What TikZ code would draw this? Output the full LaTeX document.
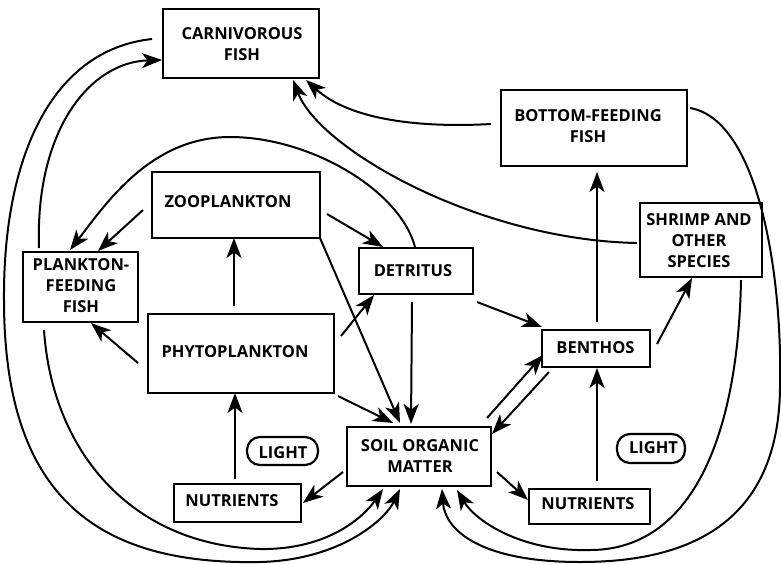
\documentclass[tikz,border=0pt]{standalone}
\usepackage{fontspec}
\setmainfont{Open Sans}
\usetikzlibrary{arrows.meta,calc}
\begin{document}
\begin{tikzpicture}[x=1pt,y=-1pt,
  box/.style={draw,line width=2.5pt,inner sep=0pt},
  lbl/.style={font=\fontsize{16.5}{21}\selectfont\bfseries,align=center,inner sep=0pt},
  pill/.style={draw,line width=2.2pt,rounded corners=13pt,inner sep=0pt},
  arr/.style={line width=2pt,-{Stealth[length=20pt,width=15pt,inset=5.5pt]}}]
\useasboundingbox (0,0) rectangle (781,563);

% boxes
\node[box,minimum width=156pt,minimum height=69pt] (carn) at (241,43.5) {};
\node[box,minimum width=186pt,minimum height=76pt] (bott) at (594,128) {};
\node[box,minimum width=168pt,minimum height=66pt] (zoo) at (236,205) {};
\node[box,minimum width=115pt,minimum height=70pt] (pff) at (80.5,287) {};
\node[box,minimum width=114pt,minimum height=46pt] (det) at (416,271) {};
\node[box,minimum width=122pt,minimum height=74pt] (shr) at (701,240) {};
\node[box,minimum width=186pt,minimum height=79pt] (phy) at (241,353.5) {};
\node[box,minimum width=108pt,minimum height=37pt] (ben) at (596,348.5) {};
\node[box,minimum width=144pt,minimum height=59pt] (soil) at (419,456.5) {};
\node[box,minimum width=127pt,minimum height=38pt] (nutL) at (237.5,503) {};
\node[box,minimum width=121pt,minimum height=35pt] (nutR) at (589.5,506.5) {};
\node[pill,minimum width=71pt,minimum height=28pt] (lightL) at (282.5,451) {};
\node[pill,minimum width=68pt,minimum height=29pt] (lightR) at (651,448.5) {};

% labels
\node[lbl] (tcarn) at (242,44.5) {CARNIVOROUS\\FISH};
\node[lbl] (tbott) at (588,126) {BOTTOM-FEEDING\\FISH};
\node[lbl] (tzoo) at (228,202) {ZOOPLANKTON};
\node[lbl] (tpff) at (81,286) {PLANKTON-\\FEEDING\\FISH};
\node[lbl] (tdet) at (413,271) {DETRITUS};
\node[lbl] (tshr) at (699,240.5) {SHRIMP AND\\OTHER\\SPECIES};
\node[lbl] (tphy) at (235,352) {PHYTOPLANKTON};
\node[lbl] (tben) at (595.5,347.5) {BENTHOS};
\node[lbl] (tsoil) at (420,456.5) {SOIL ORGANIC\\MATTER};
\node[lbl] (tnutL) at (232,500.5) {NUTRIENTS};
\node[lbl] (tnutR) at (588,503.5) {NUTRIENTS};
\node[lbl] (tlightL) at (283,452.5) {LIGHT};
\node[lbl] (tlightR) at (653.5,447.5) {LIGHT};

% long curved connectors
\draw[arr] ($(carn)+(-89,-4.5)$) .. controls (50,50) and (3,160) .. (4,300)
  .. controls (4,500) and (100,565) .. (260,562)
  .. controls (340,560) and (385,520) .. ($(soil)+(-19,32.5)$);
\draw[arr] ($(pff)+(-36.5,43)$) .. controls (52,450) and (130,545) .. (260,549)
  .. controls (330,550) and (365,515) .. ($(soil)+(-36,32.5)$);
\draw[arr] ($(pff)+(-41.5,-39)$) .. controls (35,130) and (90,62) .. ($(carn)+(-79,16.5)$);
\draw[arr] ($(det)+(-1,-24)$) .. controls (400,190) and (310,137) .. (230,137)
  .. controls (150,137) and (105,205) .. ($(pff)+(-10.5,-37)$);
\draw[arr] ($(shr)+(-64,3)$) .. controls (480,240) and (320,150) .. ($(carn)+(52,36.5)$);
\draw[arr] ($(bott)+(-103,-4)$) .. controls (420,128) and (350,120) .. ($(carn)+(65,36.5)$);
\draw[arr] ($(bott)+(96,-20)$) .. controls (760,120) and (782,280) .. (780,380)
  .. controls (782,530) and (680,562) .. (580,562)
  .. controls (480,562) and (445,530) .. ($(soil)+(23,32.5)$);
\draw[arr] ($(shr)+(40,40)$) .. controls (738,440) and (690,550) .. (590,550)
  .. controls (520,552) and (475,520) .. ($(soil)+(38,33.5)$);

% straight connectors
\draw[arr] ($(zoo)+(-93,5)$) -- ($(pff)+(17.5,-36)$);
\draw[arr] ($(zoo)+(91,9)$) -- ($(det)+(-33,-24)$);
\draw[arr] ($(zoo)+(84,33)$) -- ($(soil)+(-19,-33.5)$);
\draw[arr] ($(phy)+(-7,-47.5)$) -- ($(zoo)+(-2,33)$);
\draw[arr] ($(phy)+(-103,9.5)$) -- ($(pff)+(10.5,36)$);
\draw[arr] ($(phy)+(100,-17.5)$) -- ($(det)+(-42,24)$);
\draw[arr] ($(phy)+(97,42.5)$) -- ($(soil)+(-26,-33.5)$);
\draw[arr] ($(nutL)+(-2.5,-24)$) -- ($(phy)+(-6,39.5)$);
\draw[arr] ($(soil)+(-76,15.5)$) -- ($(nutL)+(65.5,0)$);
\draw[arr] ($(det)+(-4,31)$) -- ($(soil)+(-8,-32.5)$);
\draw[arr] ($(det)+(61,31)$) -- ($(ben)+(-54,-21.5)$);
\draw[arr] ($(soil)+(68,-38.5)$) -- ($(ben)+(-53,6.5)$);
\draw[arr] ($(ben)+(-47,23.5)$) -- ($(soil)+(73,-22.5)$);
\draw[arr] ($(soil)+(78,15.5)$) -- ($(nutR)+(-61.5,-6.5)$);
\draw[arr] ($(nutR)+(7.5,-25.5)$) -- ($(ben)+(1,19.5)$);
\draw[arr] ($(ben)+(1,-26.5)$) -- ($(bott)+(3,44)$);
\draw[arr] ($(ben)+(61,-4.5)$) -- ($(shr)+(-9,38)$);
\end{tikzpicture}
\end{document}
